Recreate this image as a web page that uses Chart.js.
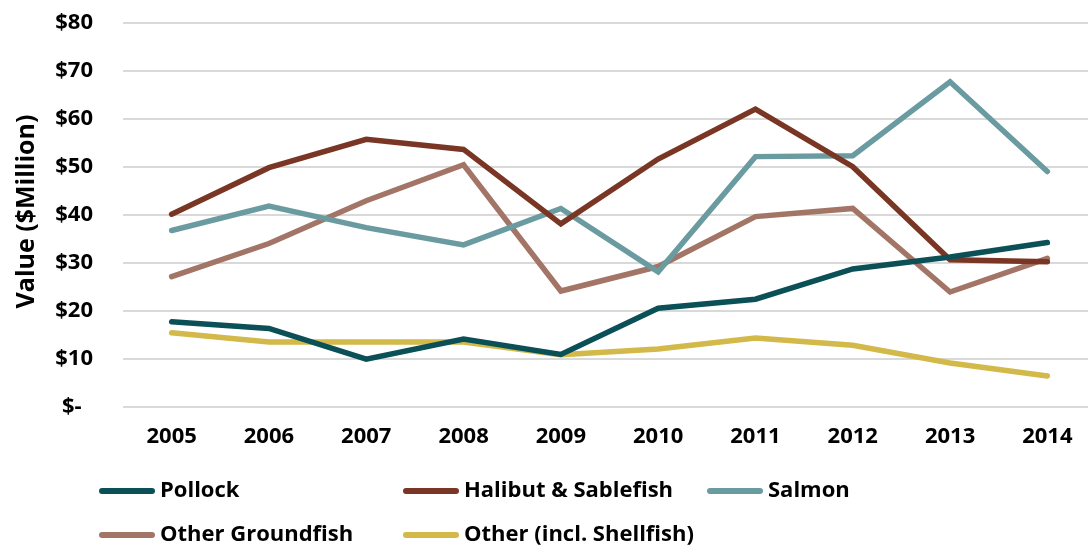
<!DOCTYPE html>
<html>
<head>
<meta charset="utf-8">
<script src="https://cdn.jsdelivr.net/npm/chart.js@4.4.0/dist/chart.umd.min.js"></script>
<style>
  html, body { margin: 0; padding: 0; background: #fff; overflow: hidden; }
  #wrap { width: 1100px; height: 546px; position: relative; }
</style>
</head>
<body>
<div id="wrap"><canvas id="c" width="1100" height="546"></canvas></div>
<script>
const categories = ['2005','2006','2007','2008','2009','2010','2011','2012','2013','2014'];
const pollock    = [17.7, 16.3, 9.9, 14.1, 10.9, 20.5, 22.4, 28.7, 31.2, 34.2];
const halibut    = [40.1, 49.8, 55.7, 53.6, 38.1, 51.6, 62.0, 50.0, 30.6, 30.2];
const salmon     = [36.7, 41.8, 37.3, 33.7, 41.3, 28.1, 52.1, 52.3, 67.7, 49.0];
const groundfish = [27.1, 34.0, 42.9, 50.4, 24.1, 29.2, 39.6, 41.3, 23.9, 30.9];
const other      = [15.4, 13.5, 13.5, 13.5, 10.8, 12.0, 14.3, 12.8, 9.1, 6.4];
const seriesNames = ['Pollock','Halibut & Sablefish','Salmon','Other Groundfish','Other (incl. Shellfish)'];
const yTicks = [0,10,20,30,40,50,60,70,80];

const colors = ['#0B4F57','#7A3624','#6A9BA0','#A37567','#D2B94A'];
const FONT = '"Open Sans", "Noto Sans", sans-serif';

const allSeries = [pollock, halibut, salmon, groundfish, other];
const datasets = allSeries.map((d, i) => ({
  label: seriesNames[i],
  data: d,
  borderColor: colors[i],
  backgroundColor: colors[i],
  borderWidth: 5.5,
  borderCapStyle: 'round',
  borderJoinStyle: 'miter',
  pointRadius: 0,
  pointHoverRadius: 0,
  tension: 0,
  fill: false,
  order: i
}));

const gridLegend = {
  id: 'gridLegend',
  afterDraw(chart) {
    const ctx = chart.ctx;
    const cols = [99, 403, 707];
    const rows = [491, 535];
    ctx.save();
    ctx.font = 'bold 22px ' + FONT;
    ctx.textBaseline = 'middle';
    ctx.textAlign = 'left';
    chart.data.datasets.forEach((ds, i) => {
      const x = cols[i % 3];
      const y = rows[Math.floor(i / 3)];
      ctx.strokeStyle = ds.borderColor;
      ctx.lineWidth = 6;
      ctx.lineCap = 'round';
      ctx.beginPath();
      ctx.moveTo(x + 3, y);
      ctx.lineTo(x + 53, y);
      ctx.stroke();
      ctx.fillStyle = '#000';
      ctx.fillText(ds.label, x + 61, y);
    });
    ctx.restore();
  }
};

new Chart(document.getElementById('c'), {
  type: 'line',
  data: { labels: categories, datasets },
  options: {
    responsive: false,
    animation: false,
    events: [],
    layout: { padding: { top: 22.7, right: 4, left: 0, bottom: 0 } },
    plugins: { legend: { display: false }, tooltip: { enabled: false } },
    scales: {
      x: {
        offset: true,
        grid: { display: false, drawTicks: false },
        border: { display: false },
        ticks: { color: '#000', font: { family: FONT, size: 22, weight: 'bold' }, padding: 17, maxRotation: 0 },
        afterFit: s => { s.height = 139.3; s.paddingLeft = 0; s.paddingRight = 0; s.paddingTop = 0; s.paddingBottom = 0; }
      },
      y: {
        min: 0, max: 80,
        afterBuildTicks: s => { s.ticks = yTicks.map(v => ({ value: v })); },
        grid: { color: '#D9D9D9', lineWidth: 2, drawTicks: false },
        border: { display: false },
        ticks: {
          color: '#000',
          font: { family: FONT, size: 22, weight: 'bold' },
          padding: 30,
          callback: v => v === 0 ? '$-  ' : '$' + v
        },
        title: {
          display: true,
          text: ' Value ($Million)',
          color: '#000',
          font: { family: FONT, size: 25, weight: 'bold' },
          padding: { top: 12, bottom: 0 }
        },
        afterFit: s => { s.width = 123; s.paddingTop = 0; s.paddingBottom = 0; s.paddingLeft = 0; s.paddingRight = 0; }
      }
    }
  },
  plugins: [gridLegend]
});
</script>
</body>
</html>
